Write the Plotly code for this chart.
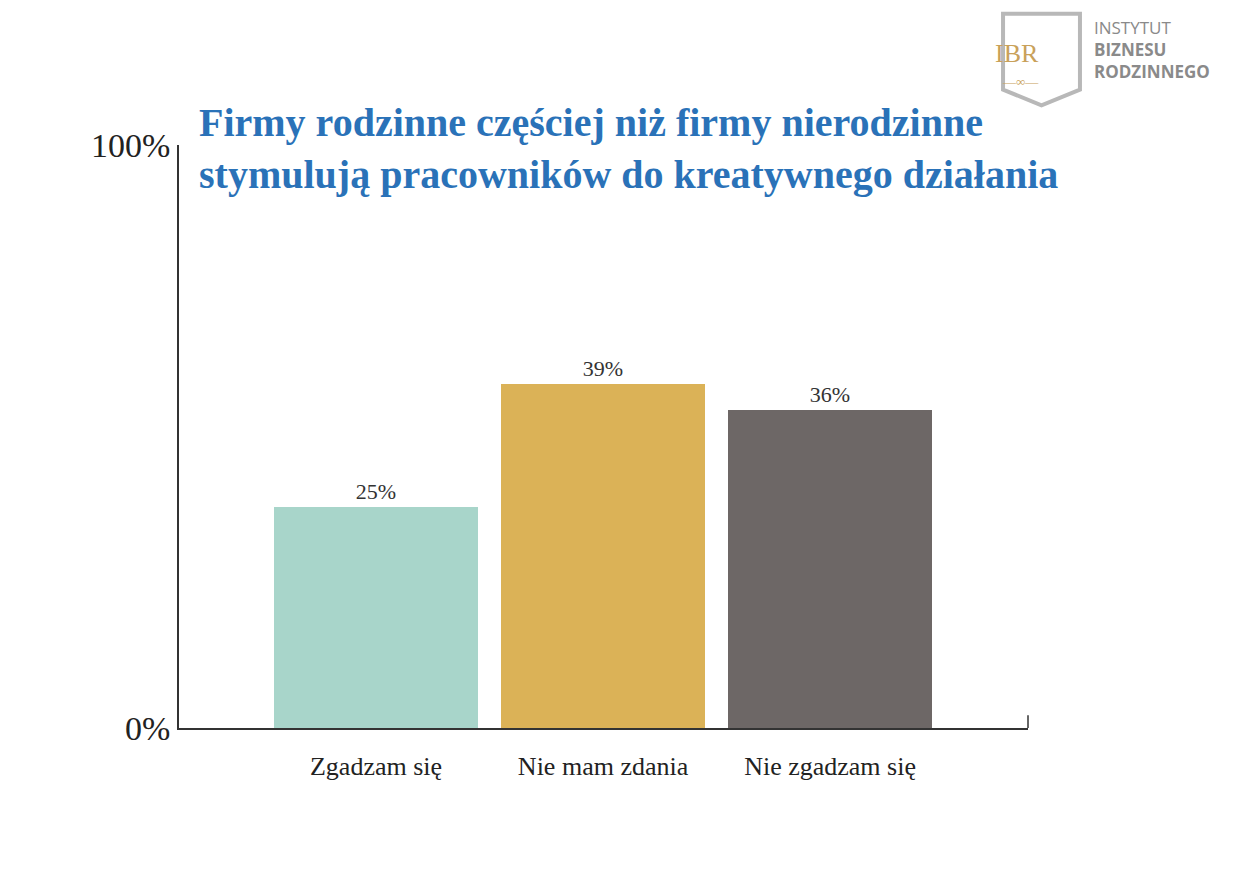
import plotly.graph_objects as go

categories = ["Zgadzam się", "Nie mam zdania", "Nie zgadzam się"]
values = [25, 39, 36]
labels = ["25%", "39%", "36%"]
colors = ["#a8d5ca", "#dbb257", "#6d6766"]
tick_vals = [0, 66]
tick_text = ["0%", "100%"]

SERIF = "Liberation Serif"
fig = go.Figure(go.Bar(
    x=list(range(len(categories))), y=values, width=0.9,
    marker=dict(color=colors, line=dict(width=0)),
    text=labels, textposition="outside", cliponaxis=False,
    textfont=dict(family=SERIF, size=22, color="#333"),
))
fig.update_layout(
    width=1250, height=884, margin=dict(l=171, r=230, t=137, b=164),
    paper_bgcolor="white", plot_bgcolor="white", showlegend=False,
    bargap=0,
    xaxis=dict(range=[-0.868, 2.872], tickvals=[0, 1, 2], ticktext=categories,
               showline=True, linecolor="#333", linewidth=1.5, showgrid=False,
               ticks="", ticklabelstandoff=14,
               tickfont=dict(family=SERIF, size=26, color="#222")),
    yaxis=dict(range=[0, 66], tickvals=tick_vals, ticktext=tick_text,
               showline=True, linecolor="#333", linewidth=1.5, showgrid=False,
               zeroline=False, ticks="", ticklen=0,
               tickfont=dict(family=SERIF, size=34, color="#222")),
    shapes=[
        dict(type="line", xref="paper", yref="paper", x0=1, x1=1, y0=0, y1=0.022,
             line=dict(color="#333", width=1.5)),
        dict(type="path", xref="paper", yref="paper",
             path="M 0.9706,1.225 L 1.0612,1.225 L 1.0612,1.095 L 1.0159,1.068 L 0.9706,1.095 Z",
             line=dict(color="#b8b8b8", width=4), fillcolor="white"),
    ],
    annotations=[
        dict(xref="paper", yref="paper", x=0.021, y=1.08, xanchor="left", yanchor="top",
             align="left", showarrow=False,
             text="<b>Firmy rodzinne częściej niż firmy nierodzinne<br>stymulują pracowników do kreatywnego działania</b>",
             font=dict(family=SERIF, size=40, color="#2a72b8")),
        dict(xref="paper", yref="paper", x=1.0159, y=1.185, showarrow=False,
             text="IBR", font=dict(family=SERIF, size=26, color="#c9a15a")),
        dict(xref="paper", yref="paper", x=1.0159, y=1.125, showarrow=False,
             text="—∞—", font=dict(family=SERIF, size=13, color="#c9a15a")),
        dict(xref="paper", yref="paper", x=1.075, y=1.225, xanchor="left", yanchor="top",
             align="left", showarrow=False,
             text="INSTYTUT<br><b>BIZNESU<br>RODZINNEGO</b>",
             font=dict(family="Open Sans", size=17, color="#8a8a8a")),
    ],
)
fig.write_html("out.html")
